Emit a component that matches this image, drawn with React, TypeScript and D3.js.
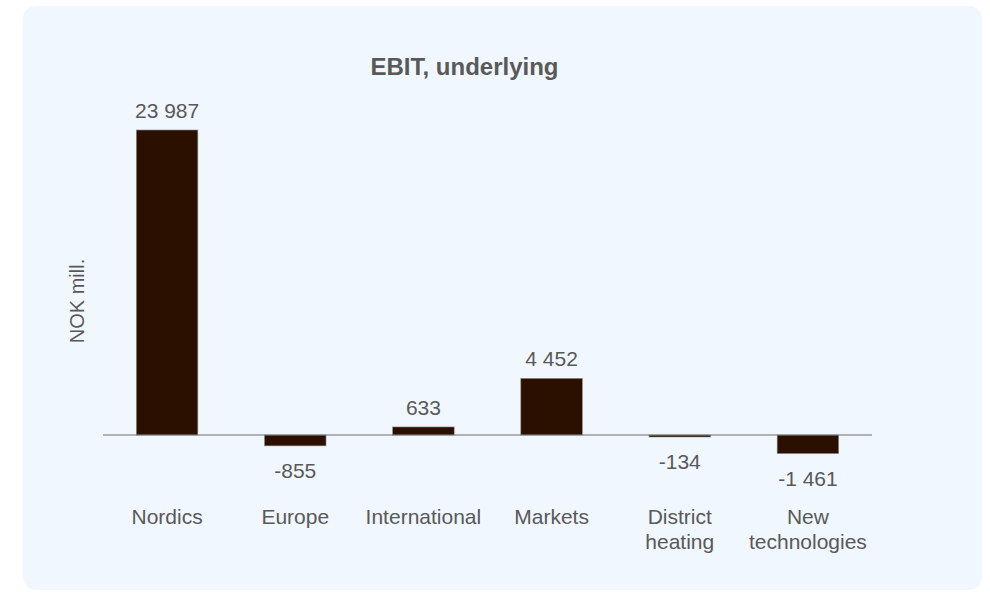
import React from 'react'
import * as d3 from 'd3'

const categories = ['Nordics', 'Europe', 'International', 'Markets', 'District\nheating', 'New\ntechnologies']
const values = [23987, -855, 633, 4452, -134, -1461]
const labels = ['23 987', '-855', '633', '4 452', '-134', '-1 461']

const W = 990
const H = 597
const textColor = '#595959'
const font = 'Liberation Sans, Arial, Helvetica, sans-serif'

export default function App() {
  const x = d3.scaleBand<number>()
    .domain(d3.range(categories.length))
    .range([103, 872])
    .paddingInner(0.52)
    .paddingOuter(0.26)

  const y = d3.scaleLinear()
    .domain([0, 23987])
    .range([435, 130])

  return (
    <svg width={W} height={H} style={{ position: 'absolute', left: 0, top: 0 }}>
      <rect x={23} y={6} width={959} height={584} rx={13} fill="#f0f7fe" />
      <text x={464.5} y={75} textAnchor="middle" fontFamily={font} fontWeight="bold"
        fontSize={24} fill={textColor}>EBIT, underlying</text>
      <text transform="translate(84,301) rotate(-90)" textAnchor="middle"
        fontFamily={font} fontSize={20} fill={textColor}>NOK mill.</text>
      {values.map((v, i) => {
        const top = Math.min(y(v), y(0))
        const h = Math.abs(y(v) - y(0))
        const cx = (x(i) as number) + x.bandwidth() / 2
        return (
          <g key={i}>
            <rect x={x(i)} y={top} width={x.bandwidth()} height={Math.max(h, 2)}
              fill="#2b1000" stroke="#8a8a8a" strokeWidth={0.6} />
            <text x={cx} y={v >= 0 ? top - 12 : top + Math.max(h, 2) + 32} textAnchor="middle"
              fontFamily={font} fontSize={21} fill={textColor}>{labels[i]}</text>
            {categories[i].split('\n').map((line, j) => (
              <text key={j} x={cx} y={524 + j * 25} textAnchor="middle"
                fontFamily={font} fontSize={21} fill={textColor}>{line}</text>
            ))}
          </g>
        )
      })}
      <line x1={103} x2={872} y1={y(0)} y2={y(0)} stroke="#6e6e6e" strokeWidth={1.2} />
    </svg>
  )
}
